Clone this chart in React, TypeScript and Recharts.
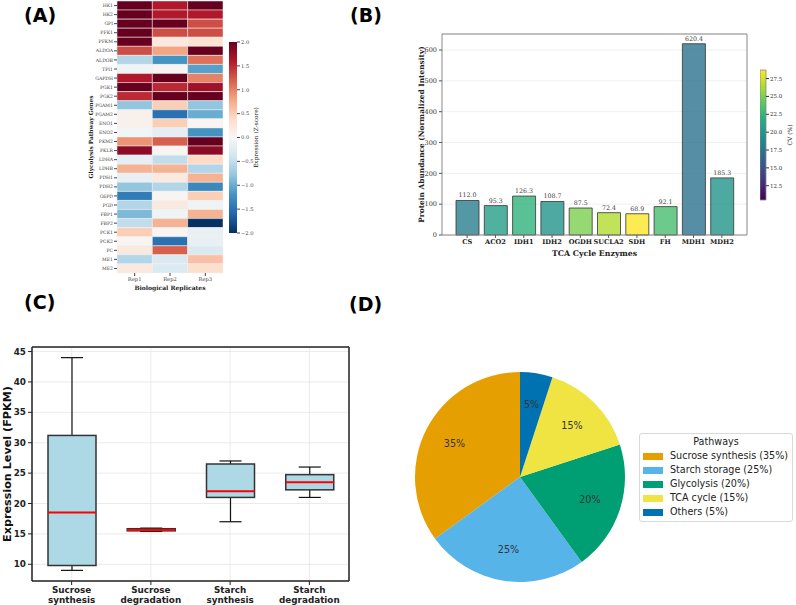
import React from "react";
import {
  BarChart,
  Bar,
  XAxis,
  YAxis,
  Cell,
  CartesianGrid,
  LabelList,
  PieChart,
  Pie,
  Legend,
} from "recharts";

const SERIF = "'DejaVu Serif', serif";
const SANS = "'DejaVu Sans', sans-serif";

// ---------- (A) glycolysis heatmap ----------
const genes = [
  "HK1", "HK2", "GPI", "PFK1", "PFKM", "ALDOA", "ALDOB", "TPI1", "GAPDH", "PGK1",
  "PGK2", "PGAM1", "PGAM2", "ENO1", "ENO2", "PKM2", "PKLR", "LDHA", "LDHB", "PDH1",
  "PDH2", "G6PD", "PGD", "FBP1", "FBP2", "PCK1", "PCK2", "PC", "ME1", "ME2",
];
const rep1 = [
  2.0, 2.0, 2.0, 2.0, 2.0, 1.3, -0.6, -0.1, 1.6, 2.0,
  1.5, -0.8, 0.1, 0.1, -0.05, 0.9, 1.8, -0.2, 0.7, -0.15,
  -0.8, -1.4, -0.6, -0.9, -0.5, 0.5, 0.05, 0.2, -0.6, 0.2,
];
const rep2 = [
  1.6, 1.6, 2.0, 1.3, 0.2, 0.8, -1.2, 0.05, 2.0, 1.5,
  2.0, 0.5, -1.5, 0.5, -0.2, 1.2, 0.05, -0.5, 0.7, 0.2,
  -0.6, 0.05, 0.2, -0.1, 0.7, 0.05, -1.5, 1.2, -0.3, -0.3,
];
const rep3 = [
  2.0, 1.6, 1.3, 1.3, 0.3, 2.0, 1.1, -1.1, 1.0, 1.7,
  2.0, -0.8, -1.0, 0.05, -1.2, 2.0, 1.8, 0.4, -0.6, 0.7,
  -1.3, 0.5, -0.1, 0.7, -2.0, -0.15, -0.15, -0.3, 0.6, 0.35,
];
const replicates = ["Rep1", "Rep2", "Rep3"];
const zTicks = [-2, -1.5, -1, -0.5, 0, 0.5, 1, 1.5, 2];

// ---------- (B) TCA enzymes ----------
const enzymes = ["CS", "ACO2", "IDH1", "IDH2", "OGDH", "SUCLA2", "SDH", "FH", "MDH1", "MDH2"];
const abundance = [112.0, 95.3, 126.3, 108.7, 87.5, 72.4, 68.9, 92.1, 620.4, 185.3];
const cvPct = [18.2, 20.6, 22.2, 19.8, 25.0, 26.5, 28.7, 23.2, 17.4, 19.9];
const cvRange = [10.5, 28.7];
const cvTicks = [12.5, 15, 17.5, 20, 22.5, 25, 27.5];
const abundanceTicks = [0, 100, 200, 300, 400, 500, 600];

// ---------- (C) box plot ----------
const boxGroups = ["Sucrose synthesis", "Sucrose degradation", "Starch synthesis", "Starch degradation"];
const whiskerLow = [9.0, 15.4, 17.0, 21.0];
const q1 = [9.8, 15.5, 21.0, 22.25];
const median = [18.5, 15.65, 22.0, 23.5];
const q3 = [31.2, 15.85, 26.5, 24.75];
const whiskerHigh = [44.0, 15.95, 27.0, 26.0];
const fpkmTicks = [10, 15, 20, 25, 30, 35, 40, 45];

// ---------- (D) pie ----------
const pathways = ["Sucrose synthesis", "Starch storage", "Glycolysis", "TCA cycle", "Others"];
const shares = [35, 25, 20, 15, 5];
const pathwayColors = ["#E69F00", "#56B4E9", "#009E73", "#F0E442", "#0072B2"];

// colour maps
const RDBU_R = ["#053061", "#2166ac", "#4393c3", "#92c5de", "#d1e5f0", "#f7f7f7", "#fddbc7", "#f4a582", "#d6604d", "#b2182b", "#67001f"];
const VIRIDIS = ["#440154", "#472d7b", "#3b528b", "#2c728e", "#21918c", "#28ae80", "#5ec962", "#addc30", "#fde725"];

const hexRgb = (h: string) => [1, 3, 5].map((i) => parseInt(h.slice(i, i + 2), 16));
const lerpColor = (stops: string[], t: number) => {
  const tt = Math.max(0, Math.min(1, t)) * (stops.length - 1);
  const i = Math.min(Math.floor(tt), stops.length - 2);
  const f = tt - i;
  const a = hexRgb(stops[i]);
  const b = hexRgb(stops[i + 1]);
  const c = a.map((v, k) => Math.round(v + (b[k] - v) * f));
  return `rgb(${c[0]},${c[1]},${c[2]})`;
};
const rdbu = (z: number) => lerpColor(RDBU_R, (z + 2) / 4);
const viridis = (v: number) => lerpColor(VIRIDIS, (v - cvRange[0]) / (cvRange[1] - cvRange[0]));
const minus = (s: string) => s.replace("-", "\u2212");

const heatData = genes.map((g) => ({ gene: g, c1: 1, c2: 1, c3: 1 }));
const zCols = [rep1, rep2, rep3];
const tcaData = enzymes.map((e, i) => ({ enzyme: e, abundance: abundance[i], cv: cvPct[i] }));
const boxData = boxGroups.map((g, i) => ({
  name: g,
  range: [whiskerLow[i], whiskerHigh[i]],
  q1: q1[i],
  med: median[i],
  q3: q3[i],
}));
const pieData = pathways.map((p, i) => ({ name: p, value: shares[i] }));

const BoxShape = (props: any) => {
  const { x, y, width, height, payload } = props;
  const [lo, hi] = payload.range;
  const top = Math.min(y, y + height);
  const bot = Math.max(y, y + height);
  const py = (v: number) => bot - ((v - lo) / (hi - lo)) * (bot - top);
  const cx = x + width / 2;
  const cap = width * 0.23;
  return (
    <g>
      <line x1={cx} x2={cx} y1={py(hi)} y2={py(payload.q3)} stroke="#111" strokeWidth={1.2} />
      <line x1={cx} x2={cx} y1={py(payload.q1)} y2={py(lo)} stroke="#111" strokeWidth={1.2} />
      <line x1={cx - cap} x2={cx + cap} y1={py(hi)} y2={py(hi)} stroke="#111" strokeWidth={1.2} />
      <line x1={cx - cap} x2={cx + cap} y1={py(lo)} y2={py(lo)} stroke="#111" strokeWidth={1.2} />
      <rect
        x={x}
        y={py(payload.q3)}
        width={width}
        height={Math.max(py(payload.q1) - py(payload.q3), 0.5)}
        fill="#add8e6"
        stroke="#333"
        strokeWidth={1.5}
      />
      <line x1={x} x2={x + width} y1={py(payload.med)} y2={py(payload.med)} stroke="#ff0000" strokeWidth={2} />
    </g>
  );
};

const TwoLineTick = (props: any) => {
  const { x, y, payload } = props;
  const [a, b] = String(payload.value).split(" ");
  return (
    <text x={x} y={y} textAnchor="middle" fontFamily={SANS} fontWeight="bold" fontSize={8.8} fill="#222">
      <tspan x={x} dy="0.8em">{a}</tspan>
      <tspan x={x} dy="1.1em">{b}</tspan>
    </text>
  );
};

const renderPct = (p: any) => {
  const RAD = Math.PI / 180;
  const r = p.outerRadius * 0.7;
  const x = p.cx + r * Math.cos(-p.midAngle * RAD);
  const y = p.cy + r * Math.sin(-p.midAngle * RAD);
  return (
    <text x={x} y={y} textAnchor="middle" dominantBaseline="central" fontFamily={SANS} fontSize={9.6} fill="#333">
      {`${Math.round(p.percent * 100)}%`}
    </text>
  );
};

const PieLegend = () => (
  <div
    style={{
      border: "1px solid #d9d9d9",
      borderRadius: 3,
      background: "#fff",
      padding: "1px 3px 2px 3px",
      fontFamily: SANS,
      fontSize: 9.6,
      color: "#222",
      lineHeight: "14px",
    }}
  >
    <div style={{ textAlign: "center" }}>Pathways</div>
    {pathways.map((p, i) => (
      <div key={p} style={{ display: "flex", alignItems: "center", whiteSpace: "nowrap" }}>
        <span style={{ display: "inline-block", width: 20, height: 7, background: pathwayColors[i], marginRight: 7 }} />
        {`${p} (${shares[i]}%)`}
      </div>
    ))}
  </div>
);

const panelLabel = (text: string, left: number, top: number) => (
  <div
    style={{
      position: "absolute",
      left,
      top,
      fontFamily: SANS,
      fontWeight: "bold",
      fontSize: 19,
      lineHeight: "19px",
      color: "#000",
    }}
  >
    {text}
  </div>
);

const abs = (left: number, top: number): React.CSSProperties => ({ position: "absolute", left, top });

export default function App() {
  return (
    <div style={{ position: "absolute", left: 0, top: 0, width: 796, height: 605, background: "#fff", overflow: "hidden" }}>
      {panelLabel("(A)", 24, 6)}
      {panelLabel("(B)", 350, 6)}
      {panelLabel("(C)", 24, 293)}
      {panelLabel("(D)", 349, 295)}

      {/* (A) heatmap as stacked unit bars, coloured by z-score */}
      <div style={abs(80, 0)}>
        <BarChart
          width={160}
          height={295}
          data={heatData}
          layout="vertical"
          barCategoryGap={0}
          margin={{ top: 1, right: 17, bottom: 0, left: 0 }}
        >
          <XAxis
            type="number"
            domain={[0, 3]}
            ticks={[0.5, 1.5, 2.5]}
            tickFormatter={(v: number) => replicates[Math.floor(v)]}
            axisLine={false}
            tickSize={3}
            tickMargin={1}
            height={22}
            tick={{ fontFamily: SERIF, fontSize: 5.2, fill: "#444" }}
            tickLine={{ stroke: "#444" }}
            label={{
              value: "Biological Replicates",
              position: "insideBottom",
              offset: 5,
              style: { fontFamily: SERIF, fontWeight: "bold", fontSize: 6, fill: "#222" },
            }}
          />
          <YAxis
            type="category"
            dataKey="gene"
            width={37}
            interval={0}
            axisLine={false}
            tickSize={3}
            tickMargin={1}
            tick={{ fontFamily: SERIF, fontSize: 4.6, fill: "#444" }}
            tickLine={{ stroke: "#444" }}
            label={{
              value: "Glycolysis Pathway Genes",
              angle: -90,
              position: "insideLeft",
              offset: 11,
              style: { textAnchor: "middle", fontFamily: SERIF, fontWeight: "bold", fontSize: 5.8, fill: "#222" },
            }}
          />
          {["c1", "c2", "c3"].map((k, j) => (
            <Bar key={k} dataKey={k} stackId="h" stroke="#f0f0f0" strokeWidth={0.5} isAnimationActive={false}>
              {heatData.map((_, i) => (
                <Cell key={i} fill={rdbu(zCols[j][i])} />
              ))}
            </Bar>
          ))}
        </BarChart>
      </div>

      {/* (A) colour bar */}
      <div style={abs(229, 0)}>
        <BarChart width={45} height={240} data={[{ name: "z", v: [-2, 2] }]} barCategoryGap={0} margin={{ top: 42, right: 0, bottom: 7, left: 0 }}>
          <defs>
            <linearGradient id="rdbuGrad" x1="0" y1="1" x2="0" y2="0">
              {RDBU_R.map((c, i) => (
                <stop key={i} offset={`${(i / (RDBU_R.length - 1)) * 100}%`} stopColor={c} />
              ))}
            </linearGradient>
          </defs>
          <XAxis dataKey="name" hide />
          <YAxis
            orientation="right"
            domain={[-2, 2]}
            ticks={zTicks}
            width={37}
            axisLine={false}
            tickSize={3}
            tickMargin={1}
            tickFormatter={(v: number) => minus(v.toFixed(1))}
            tick={{ fontFamily: SERIF, fontSize: 5.2, fill: "#444" }}
            tickLine={{ stroke: "#444" }}
            label={{
              value: "Expression (Z-score)",
              angle: -90,
              position: "insideRight",
              offset: 18,
              style: { textAnchor: "middle", fontFamily: SERIF, fontSize: 5.8, fill: "#222" },
            }}
          />
          <Bar dataKey="v" fill="url(#rdbuGrad)" isAnimationActive={false} />
        </BarChart>
      </div>

      {/* (B) TCA enzymes */}
      <div style={abs(380, 0)}>
        <BarChart width={380} height={260} data={tcaData} margin={{ top: 34, right: 13, bottom: 0, left: 0 }}>
          <CartesianGrid vertical={false} stroke="#ececec" strokeWidth={0.8} />
          <XAxis
            dataKey="enzyme"
            interval={0}
            padding={{ left: 11, right: 11 }}
            height={25}
            tickSize={3}
            tickMargin={1}
            axisLine={{ stroke: "#888" }}
            tickLine={{ stroke: "#555" }}
            tick={{ fontFamily: SERIF, fontWeight: "bold", fontSize: 6.6, fill: "#222" }}
            label={{
              value: "TCA Cycle Enzymes",
              position: "insideBottom",
              offset: 4,
              style: { fontFamily: SERIF, fontWeight: "bold", fontSize: 7.8, fill: "#222" },
            }}
          />
          <XAxis xAxisId="top" dataKey="enzyme" orientation="top" mirror tick={false} tickLine={false} axisLine={{ stroke: "#888" }} />
          <YAxis
            domain={[0, 652]}
            ticks={abundanceTicks}
            width={62}
            tickSize={3}
            tickMargin={2}
            axisLine={{ stroke: "#888" }}
            tickLine={{ stroke: "#555" }}
            tick={{ fontFamily: SERIF, fontSize: 6.5, fill: "#333" }}
            label={{
              value: "Protein Abundance (Normalized Intensity)",
              angle: -90,
              position: "insideLeft",
              offset: 41,
              style: { textAnchor: "middle", fontFamily: SERIF, fontWeight: "bold", fontSize: 7.4, fill: "#222" },
            }}
          />
          <YAxis yAxisId="right" orientation="right" mirror tick={false} tickLine={false} axisLine={{ stroke: "#888" }} />
          <Bar dataKey="abundance" barSize={23} stroke="#333" strokeWidth={0.8} isAnimationActive={false}>
            {tcaData.map((d, i) => (
              <Cell key={i} fill={viridis(d.cv)} fillOpacity={0.8} />
            ))}
            <LabelList
              dataKey="abundance"
              position="top"
              offset={3}
              formatter={(v: any) => Number(v).toFixed(1)}
              style={{ fontFamily: SERIF, fontSize: 6.3, fill: "#444" }}
            />
          </Bar>
        </BarChart>
      </div>

      {/* (B) colour bar */}
      <div style={abs(760, 0)}>
        <BarChart width={36} height={210} data={[{ name: "cv", v: cvRange }]} barCategoryGap={0} margin={{ top: 70, right: 0, bottom: 10, left: 0 }}>
          <defs>
            <linearGradient id="viridisGrad" x1="0" y1="1" x2="0" y2="0">
              {VIRIDIS.map((c, i) => (
                <stop key={i} offset={`${(i / (VIRIDIS.length - 1)) * 100}%`} stopColor={c} />
              ))}
            </linearGradient>
          </defs>
          <XAxis dataKey="name" hide />
          <YAxis
            orientation="right"
            domain={cvRange}
            ticks={cvTicks}
            width={30}
            axisLine={false}
            tickSize={3}
            tickMargin={1}
            tickFormatter={(v: number) => v.toFixed(1)}
            tick={{ fontFamily: SERIF, fontSize: 5.5, fill: "#333" }}
            tickLine={{ stroke: "#333" }}
            label={{
              value: "CV (%)",
              angle: -90,
              position: "insideRight",
              offset: 6,
              style: { textAnchor: "middle", fontFamily: SERIF, fontSize: 6, fill: "#222" },
            }}
          />
          <Bar dataKey="v" fill="url(#viridisGrad)" stroke="#888" strokeWidth={0.8} isAnimationActive={false} />
        </BarChart>
      </div>

      {/* (C) box plot */}
      <div style={abs(0, 330)}>
        <BarChart width={360} height={275} data={boxData} margin={{ top: 17, right: 11, bottom: 0, left: 0 }}>
          <CartesianGrid stroke="#e6e6e6" strokeWidth={0.8} />
          <XAxis
            dataKey="name"
            interval={0}
            height={24}
            tickSize={4}
            tickMargin={1}
            axisLine={{ stroke: "#222", strokeWidth: 1.5 }}
            tickLine={{ stroke: "#222" }}
            tick={<TwoLineTick />}
          />
          <XAxis xAxisId="top" dataKey="name" orientation="top" mirror tick={false} tickLine={false} axisLine={{ stroke: "#222", strokeWidth: 1.5 }} />
          <YAxis
            domain={[7.25, 45.75]}
            ticks={fpkmTicks}
            width={32}
            tickSize={4}
            tickMargin={2}
            axisLine={{ stroke: "#222", strokeWidth: 1.5 }}
            tickLine={{ stroke: "#222" }}
            tick={{ fontFamily: SANS, fontWeight: "bold", fontSize: 8.8, fill: "#222" }}
            label={{
              value: "Expression Level (FPKM)",
              angle: -90,
              position: "insideLeft",
              offset: 7,
              style: { textAnchor: "middle", fontFamily: SANS, fontWeight: "bold", fontSize: 11.2, fill: "#111" },
            }}
          />
          <YAxis yAxisId="right" orientation="right" mirror tick={false} tickLine={false} axisLine={{ stroke: "#222", strokeWidth: 1.5 }} />
          <Bar dataKey="range" barSize={48} shape={<BoxShape />} isAnimationActive={false} />
        </BarChart>
      </div>

      {/* (D) pie */}
      <div style={abs(400, 360)}>
        <PieChart width={396} height={245} margin={{ top: 0, right: 0, bottom: 0, left: 0 }}>
          <Pie
            data={pieData}
            dataKey="value"
            nameKey="name"
            cx={120}
            cy={117}
            outerRadius={105}
            startAngle={90}
            endAngle={450}
            stroke="none"
            labelLine={false}
            label={renderPct}
            isAnimationActive={false}
          >
            {pieData.map((_, i) => (
              <Cell key={i} fill={pathwayColors[i]} />
            ))}
          </Pie>
          <Legend
            content={<PieLegend />}
            wrapperStyle={{ position: "absolute", left: 239, top: 73, width: 154, bottom: "auto", right: "auto" }}
          />
        </PieChart>
      </div>
    </div>
  );
}
